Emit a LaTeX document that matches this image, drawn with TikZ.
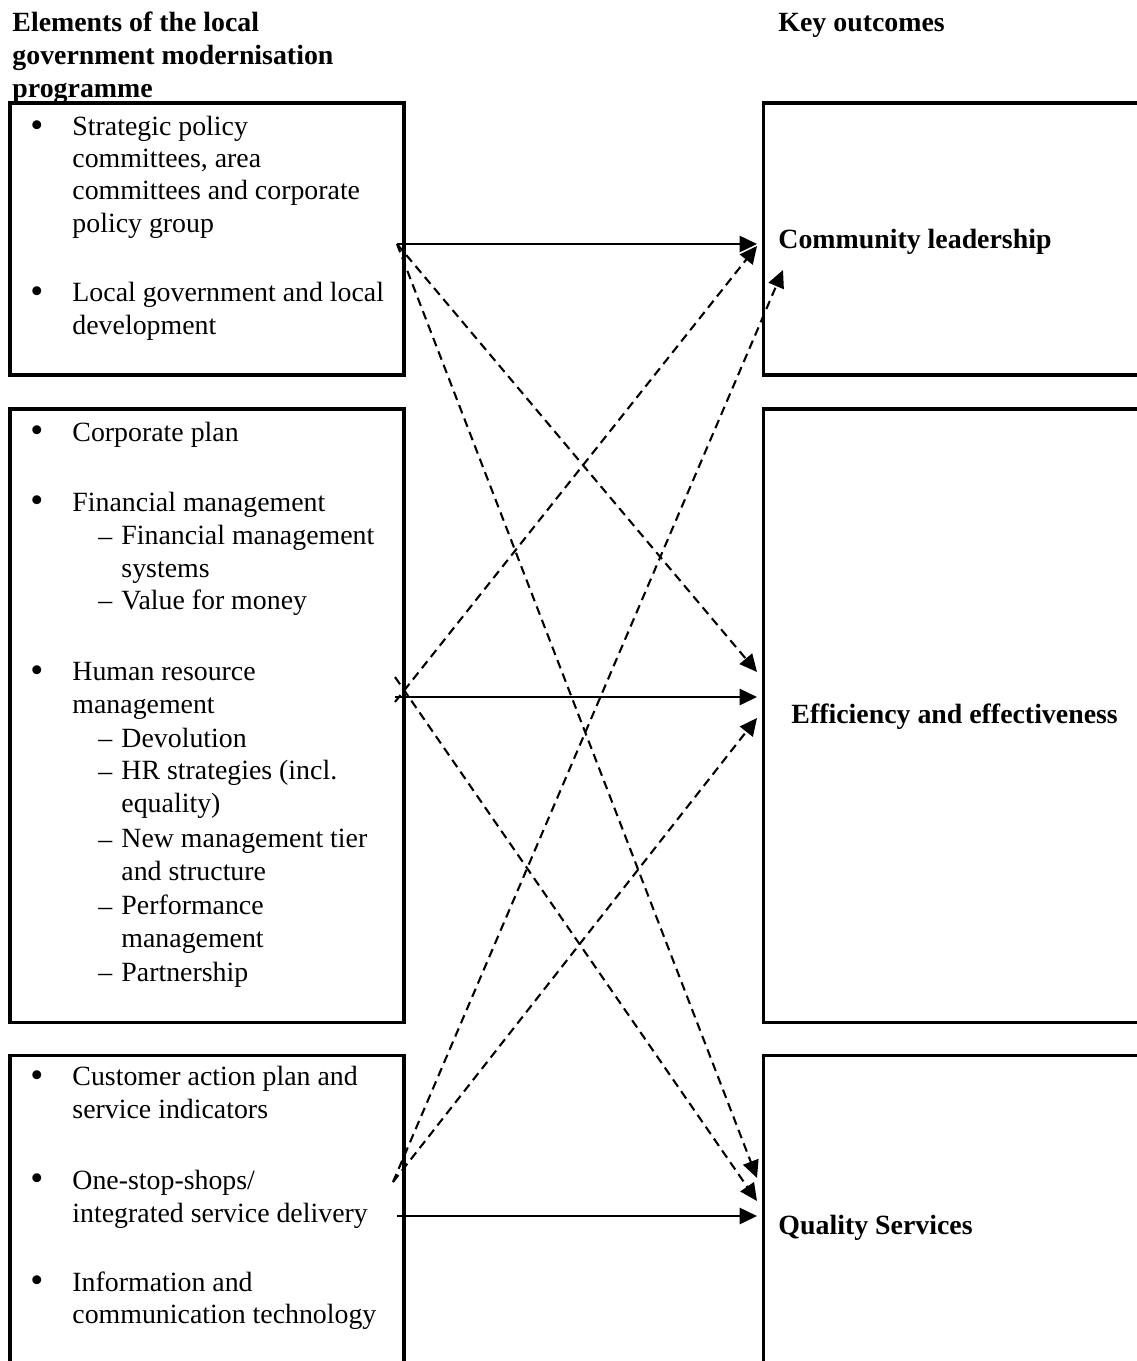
\documentclass[tikz,border=0pt]{standalone}
\usepackage{fontspec}
\setmainfont{Liberation Serif}
\usetikzlibrary{arrows.meta}

\begin{document}
\begin{tikzpicture}[x=0.431pt,y=-0.431pt,
		frame/.style={line width=1.3pt},
		txt/.style={anchor=base west,inner sep=0pt,align=left,font=\fontsize{12}{13.8}\selectfont},
		head/.style={txt,font=\fontsize{12}{14.2}\selectfont\bfseries},
		dot/.style={txt,font=\fontsize{16}{16}\selectfont},
		link/.style={line width=0.9pt,-{Triangle[length=7.5pt,width=7pt]}},
		dlink/.style={link,dash pattern=on 3.8pt off 2.4pt}]
				\useasboundingbox (0,0) rectangle (1136,1361);
				\draw[frame] (10,103) rectangle (404,375);
				\draw[frame] (10,409) rectangle (404,1022);
				\draw[frame] (10,1055) rectangle (404,1400);
				\draw[frame] (763,103) rectangle (1160,375);
				\draw[frame] (763,409) rectangle (1160,1022);
				\draw[frame] (763,1055) rectangle (1160,1400);
				\node[head] (elements) at (12,97) {Elements of the local\\government modernisation\\programme};
				\node[head] (outcomes) at (778,31) {Key outcomes};
				\node[head] (leadership) at (778,248) {Community leadership};
				\node[head] (efficiency) at (791,723) {Efficiency and effectiveness};
				\node[head] (quality) at (778,1234) {Quality Services};
				\foreach \y in {137,303,442,512,682,1087,1190,1292}
					\node[dot] (bullet\y) at (30,\y) {•};
				\foreach \y in {545,609,747,780,848,915,981}
					\node[txt] (dash\y) at (98,\y) {–};
				\node[txt] (strategic) at (72,232) {Strategic policy\\committees, area\\committees and corporate\\policy group};
				\node[txt] (localgov) at (72,334) {Local government and local\\development};
				\node[txt] (corpplan) at (72,441) {Corporate plan};
				\node[txt] (finance) at (72,511) {Financial management};
				\node[txt] (finsys) at (121,577) {Financial management\\systems};
				\node[txt] (value) at (121,609) {Value for money};
				\node[txt] (hrm) at (72,713) {Human resource\\management};
				\node[txt] (devolution) at (121,747) {Devolution};
				\node[txt] (hrstrat) at (121,812) {HR strategies (incl.\\equality)};
				\node[txt] (tier) at (121,880) {New management tier\\and structure};
				\node[txt] (perform) at (121,947) {Performance\\management};
				\node[txt] (partner) at (121,981) {Partnership};
				\node[txt] (customer) at (72,1118) {Customer action plan and\\service indicators};
				\node[txt] (onestop) at (72,1222) {One-stop-shops/\\integrated service delivery};
				\node[txt] (ict) at (72,1323) {Information and\\communication technology};
				\coordinate (from1) at (397,244);
				\coordinate (from2) at (395,697);
				\coordinate (from2a) at (395,677);
				\coordinate (from2b) at (395,702);
				\coordinate (from3) at (397,1216);
				\coordinate (from3a) at (393,1182);
				\coordinate (to1) at (757,244);
				\coordinate (to1a) at (757,246);
				\coordinate (to1b) at (783,270);
				\coordinate (to2a) at (757,672);
				\coordinate (to2) at (757,697);
				\coordinate (to2b) at (757,718);
				\coordinate (to3a) at (757,1178);
				\coordinate (to3b) at (757,1201);
				\coordinate (to3) at (757,1216);
				\draw[link] (from1) -- (to1);
				\draw[link] (from2) -- (to2);
				\draw[link] (from3) -- (to3);
				\draw[dlink] (from1) -- (to2a);
				\draw[dlink] (from1) -- (to3a);
				\draw[dlink] (from2b) -- (to1a);
				\draw[dlink] (from2a) -- (to3b);
				\draw[dlink] (from3a) -- (to1b);
				\draw[dlink] (from3a) -- (to2b);
			\end{tikzpicture}
\end{document}
